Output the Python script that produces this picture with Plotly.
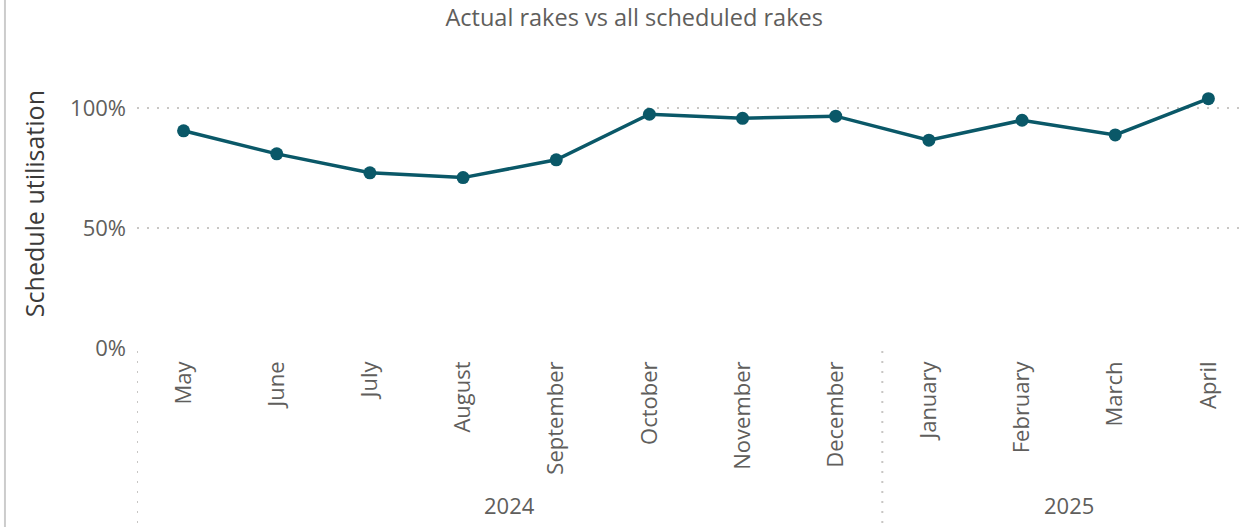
import plotly.graph_objects as go

months = ["May", "June", "July", "August", "September", "October", "November",
          "December", "January", "February", "March", "April"]
years = ["2024"] * 8 + ["2025"] * 4
utilisation = [0.905, 0.809, 0.730, 0.710, 0.784, 0.974, 0.957, 0.966,
               0.866, 0.949, 0.888, 1.039]
y_ticks = [0, 0.5, 1.0]
y_tick_labels = ["0%", "50%", "100%"]

LINE = "#0A5868"
GRID = "#C8C6C4"
TXT = "#605E5C"
FONT = "Open Sans, Segoe UI, sans-serif"

idx = list(range(len(months)))

fig = go.Figure()
fig.add_trace(go.Scatter(
    x=idx, y=utilisation, mode="lines+markers",
    line=dict(color=LINE, width=3.5),
    marker=dict(color=LINE, size=13),
    hovertemplate="%{text}: %{y:.0%}<extra></extra>",
    text=[f"{m} {y}" for m, y in zip(months, years)],
))

# year groups
groups = []
for i, y in enumerate(years):
    if not groups or groups[-1][0] != y:
        groups.append([y, i, i])
    else:
        groups[-1][2] = i

shapes = []
annotations = []
for name, start, end in groups:
    annotations.append(dict(
        x=(start + end) / 2, y=-0.545, xref="x", yref="paper",
        text=name, showarrow=False, xanchor="center", yanchor="middle",
        font=dict(family=FONT, size=22, color=TXT)))
    shapes.append(dict(
        type="line", xref="x", yref="paper", x0=start - 0.5, x1=start - 0.5,
        y0=-0.01, y1=-0.63, line=dict(color=GRID, width=2, dash="2px,8px")))

# left border of visual
shapes.append(dict(type="line", xref="paper", yref="paper",
                   x0=-0.1196, x1=-0.1196, y0=-0.7, y1=1.3,
                   line=dict(color="#CCCCCC", width=2)))

annotations.append(dict(
    x=-0.0933, y=0.503, xref="paper", yref="paper", text="Schedule utilisation",
    textangle=-90, showarrow=False, xanchor="center", yanchor="middle",
    font=dict(family=FONT, size=25, color="#3B3A39")))

fig.update_layout(
    width=1241, height=527,
    margin=dict(l=137, r=0, t=60, b=179),
    paper_bgcolor="white", plot_bgcolor="white",
    showlegend=False,
    title=dict(text="Actual rakes vs all scheduled rakes", x=0.511, xanchor="center",
               y=1 - 18 / 527, yanchor="middle", xref="container", yref="container",
               font=dict(family=FONT, size=23.5, color=TXT)),
    shapes=shapes, annotations=annotations,
    xaxis=dict(range=[-0.5, 11.35], tickmode="array", tickvals=idx, ticktext=months,
               tickangle=-90, showgrid=False, zeroline=False, showline=False,
               ticklabelstandoff=8,
               tickfont=dict(family=FONT, size=22, color=TXT)),
    yaxis=dict(range=[0, 1.2], tickmode="array", tickvals=y_ticks, ticktext=y_tick_labels,
               showgrid=True, gridcolor=GRID, gridwidth=2, griddash="2px,8px",
               zeroline=False, showline=False, ticklabelstandoff=10,
               tickfont=dict(family=FONT, size=22, color=TXT)),
)

fig.write_html("out.html", config={"displayModeBar": False},
               post_script="document.body.style.margin='0';")
